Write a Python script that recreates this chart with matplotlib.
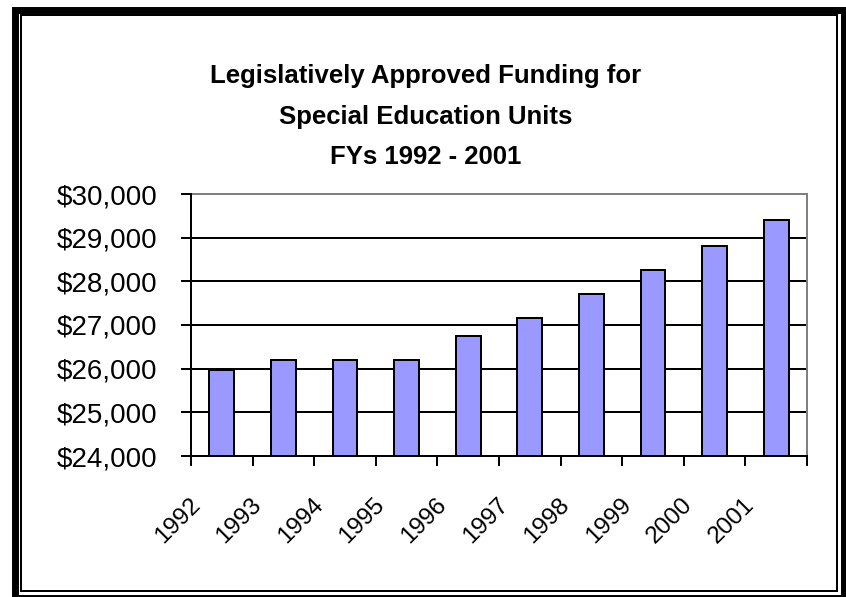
"""Special education unit funding by fiscal year, bar chart saved as out.png."""

import matplotlib

matplotlib.use("Agg")
import matplotlib.pyplot as plt
import matplotlib.transforms as mtransforms
from matplotlib.patches import Rectangle
from matplotlib.ticker import FuncFormatter, MultipleLocator

W, H = 846, 597  # figure size in pixels at dpi 100

YEARS = ["1992", "1993", "1994", "1995", "1996", "1997", "1998", "1999", "2000", "2001"]
FUNDING = [25970, 26190, 26190, 26190, 26750, 27160, 27710, 28260, 28810, 29400]
TITLE_LINES = [
    "Legislatively Approved Funding for",
    "Special Education Units",
    "FYs 1992 - 2001",
]

BAR_COLOR = "#9999FF"
LW = 1.44  # ~2 px

plt.rcParams.update({
    "font.family": ["Liberation Sans", "DejaVu Sans"],
    "axes.linewidth": LW,
})


def px_x(x):
    return x / W


def px_y(y):
    # pixel rows are counted from the top
    return 1 - y / H


fig = plt.figure(figsize=(W / 100, H / 100), dpi=100)
fig.patch.set_facecolor("white")

ax = fig.add_axes([px_x(191), px_y(456), px_x(807) - px_x(191), px_y(194) - px_y(456)])

centers = [i + 0.5 for i in range(len(YEARS))]
ax.bar(centers, [v - 24000 for v in FUNDING], bottom=24000, width=0.4,
       color=BAR_COLOR, edgecolor="black", linewidth=LW, zorder=3)

ax.set_xlim(0, len(YEARS))
ax.set_ylim(24000, 30000)
ax.yaxis.set_major_locator(MultipleLocator(1000))
ax.yaxis.set_major_formatter(FuncFormatter(lambda v, _: f"${v:,.0f}"))
ax.grid(axis="y", color="black", linewidth=LW, zorder=1)
ax.set_axisbelow(True)

for side in ("top", "right"):
    ax.spines[side].set_color("#808080")
for side in ("left", "bottom"):
    ax.spines[side].set_zorder(4)

ax.tick_params(axis="y", direction="out", length=7.2, width=LW, pad=17,
               labelsize=20, colors="black")

# tick marks sit between categories, labels are rotated under each bar
ax.set_xticks(range(len(YEARS) + 1), minor=True)
ax.tick_params(axis="x", which="minor", direction="out", length=7.2, width=LW)
ax.set_xticks(centers, YEARS)
ax.tick_params(axis="x", which="major", length=0, pad=27, labelsize=17.5)
shift = mtransforms.ScaledTranslation(-33 / 100, 0, fig.dpi_scale_trans)
for lab in ax.get_xticklabels():
    lab.set_rotation(45)
    lab.set_rotation_mode("anchor")
    lab.set_ha("right")
    lab.set_va("top")
    lab.set_transform(lab.get_transform() + shift)

for line, baseline in zip(TITLE_LINES, [83.5, 124, 164]):
    fig.text(px_x(426), px_y(baseline), line, ha="center", va="baseline",
             fontsize=18.5, fontweight="bold")

# chart frame: heavy outer line plus a thin inner line
fig.add_artist(Rectangle((px_x(14.5), px_y(597.5)), px_x(844) - px_x(14.5),
                         px_y(9.5) - px_y(597.5), transform=fig.transFigure,
                         fill=False, edgecolor="black", linewidth=5.0))
fig.add_artist(Rectangle((px_x(21), px_y(590.5)), px_x(837) - px_x(21),
                         px_y(15) - px_y(590.5), transform=fig.transFigure,
                         fill=False, edgecolor="black", linewidth=LW))

fig.savefig("out.png", dpi=100)
